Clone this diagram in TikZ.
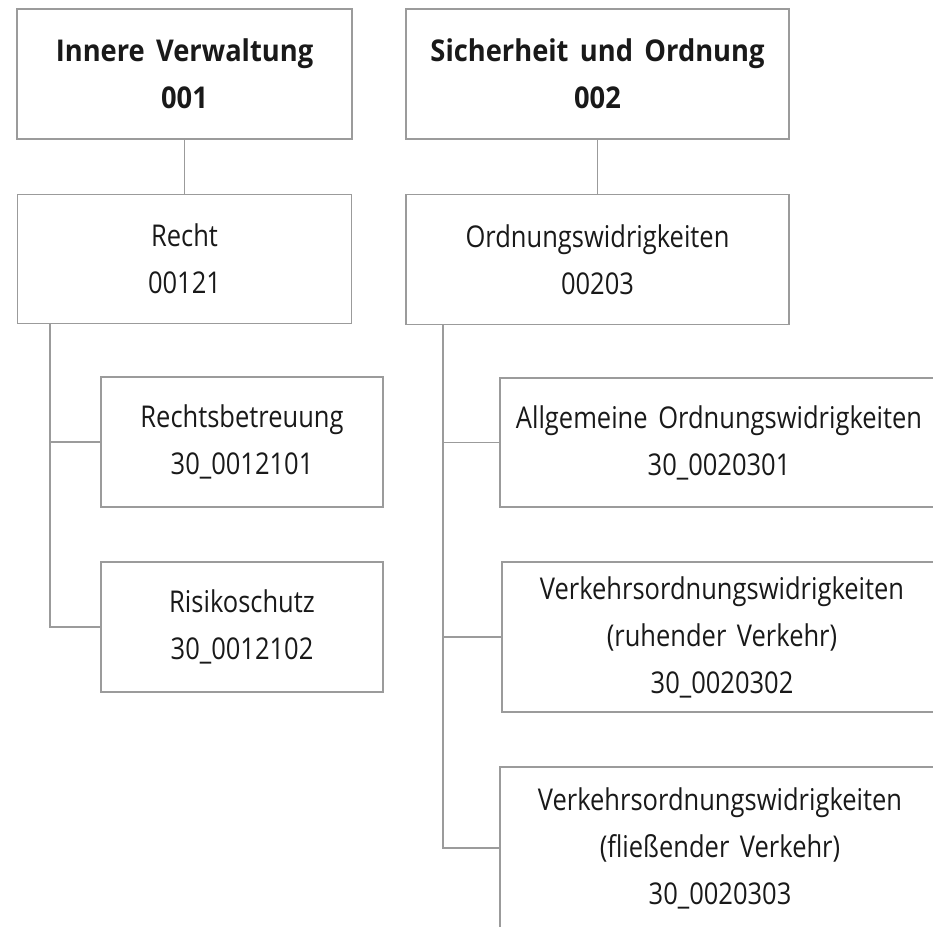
\documentclass[tikz,border=0pt]{standalone}
\usepackage{fontspec}
\setmainfont{Open Sans}[FakeStretch=0.85, WordSpace=1.6, BoldFeatures={FakeStretch=0.91}]
\usetikzlibrary{positioning}
\definecolor{linegray}{RGB}{155,155,155}

\begin{document}
\begin{tikzpicture}[x=0.5pt, y=-0.5pt,
    box/.style={rectangle, draw=linegray, line width=0.8pt, inner sep=0pt, align=center, text=black!90, font=\fontsize{15}{23.5}\selectfont},
    head/.style={box, font=\fontsize{15}{23.5}\selectfont\bfseries},
    link/.style={draw=linegray, line width=0.8pt}
]
\useasboundingbox (0,0) rectangle (933,927);
\clip (0,0) rectangle (933,927);

% Top level
\node[head, minimum width=167.5pt, minimum height=65pt] (iv) at (184.5,74) {Innere Verwaltung\\001};
\node[head, minimum width=191.5pt, minimum height=65pt] (so) at (597.5,74) {Sicherheit und Ordnung\\002};

% Second level
\node[box, minimum width=167pt, minimum height=64.5pt, below=27pt of iv] (recht) {Recht\\00121};
\node[box, minimum width=191.5pt, minimum height=65pt, below=27pt of so] (owi) {Ordnungswidrigkeiten\\00203};

% Products Recht
\node[box, minimum width=141pt, minimum height=65pt] (rb) at (242,442) {Rechtsbetreuung\\30\_0012101};
\node[box, minimum width=141pt, minimum height=65pt] (rs) at (242,627) {Risikoschutz\\30\_0012102};

% Products Ordnungswidrigkeiten
\node[box, minimum width=219pt, minimum height=64.5pt] (aowi) at (719,442.5) {Allgemeine Ordnungswidrigkeiten\\30\_0020301};
\node[box, minimum width=220pt, minimum height=75pt] (rv) at (722,637) {Verkehrsordnungswidrigkeiten\\(ruhender Verkehr)\\30\_0020302};
\node[box, minimum width=220pt, minimum height=81pt] (fv) at (720,848) {Verkehrsordnungswidrigkeiten\\(fließender Verkehr)\\30\_0020303};

\draw[link] (iv) -- (recht);
\draw[link] (so) -- (owi);

\coordinate (lt) at ([xshift=16.5pt]recht.south west);
\draw[link] (lt) |- (rb.west);
\draw[link] (lt) |- (rs.west);

\coordinate (rt) at ([xshift=19pt]owi.south west);
\draw[link] (rt) |- (aowi.west);
\draw[link] (rt) |- (rv.west);
\draw[link] (rt) |- (fv.west);
\end{tikzpicture}
\end{document}
